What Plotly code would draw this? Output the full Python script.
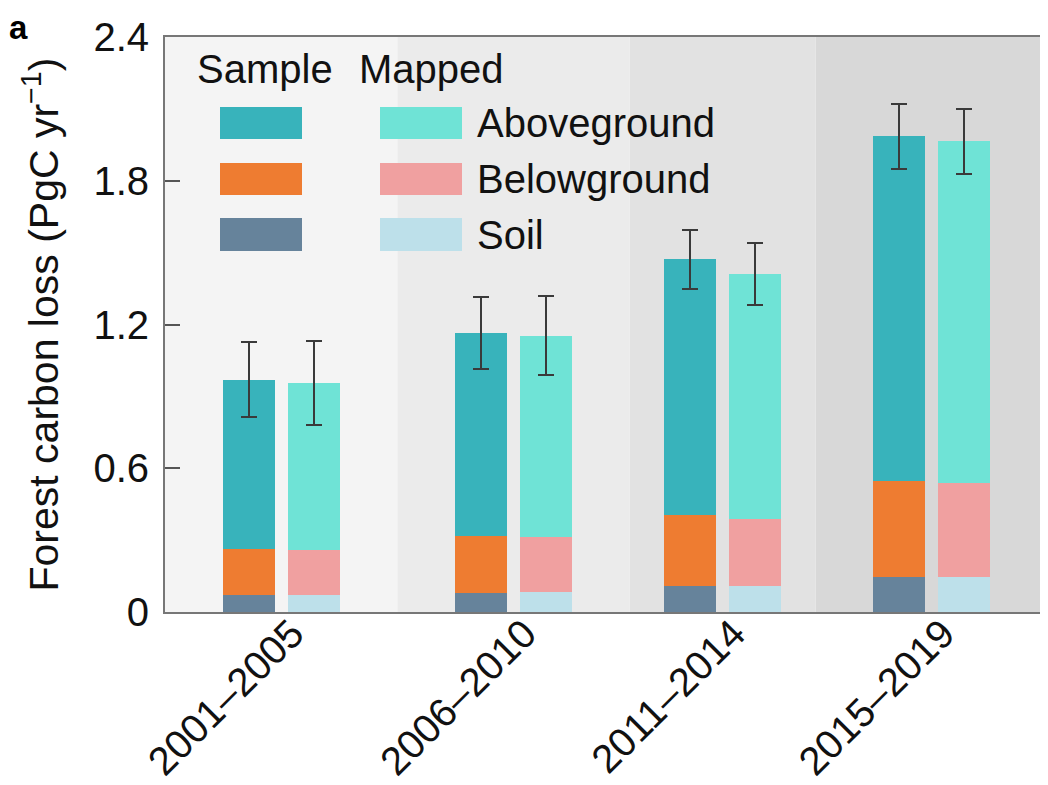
import plotly.graph_objects as go

# ---- data ----
periods = ["2001–2005", "2006–2010", "2011–2014", "2015–2019"]

sample_soil = [0.070, 0.081, 0.108, 0.148]
sample_below = [0.195, 0.237, 0.295, 0.399]
sample_above = [0.705, 0.847, 1.069, 1.439]
sample_err = [0.155, 0.149, 0.122, 0.136]

mapped_soil = [0.070, 0.084, 0.108, 0.148]
mapped_below = [0.188, 0.227, 0.281, 0.392]
mapped_above = [0.698, 0.843, 1.021, 1.424]
mapped_err = [0.175, 0.165, 0.130, 0.137]

y_ticks = [0, 0.6, 1.2, 1.8, 2.4]
y_tick_labels = ["0", "0.6", "1.2", "1.8", "2.4"]

# ---- derived positions (period spans on a continuous year axis) ----
starts = [int(p.split("–")[0]) for p in periods]
ends = [int(p.split("–")[1]) for p in periods]
edges = [s - 0.5 for s in starts] + [ends[-1] + 0.5]
centers = [(s + e) / 2 for s, e in zip(starts, ends)]
OFF = 0.70
BW = 1.12
xs = [c - OFF for c in centers]
xm = [c + OFF for c in centers]

C_S_ABOVE = "#38b3bb"
C_S_BELOW = "#ee7c31"
C_S_SOIL = "#66839b"
C_M_ABOVE = "#6fe3d6"
C_M_BELOW = "#f0a0a0"
C_M_SOIL = "#bde0ea"
band_colors = ["#f4f4f4", "#ebebeb", "#e2e2e2", "#d8d8d8"]

FONT = "Liberation Sans, Arial, Helvetica, sans-serif"
FS = 40

err_style = dict(type="data", visible=True, color="#3a3a3a", thickness=2, width=8)

fig = go.Figure()
fig.add_trace(go.Bar(x=xs, y=sample_soil, width=BW, marker_color=C_S_SOIL, name="Sample soil"))
fig.add_trace(go.Bar(x=xs, y=sample_below, width=BW, marker_color=C_S_BELOW, name="Sample belowground"))
fig.add_trace(go.Bar(x=xs, y=sample_above, width=BW, marker_color=C_S_ABOVE, name="Sample aboveground",
                     error_y=dict(array=sample_err, **err_style)))
fig.add_trace(go.Bar(x=xm, y=mapped_soil, width=BW, marker_color=C_M_SOIL, name="Mapped soil"))
fig.add_trace(go.Bar(x=xm, y=mapped_below, width=BW, marker_color=C_M_BELOW, name="Mapped belowground"))
fig.add_trace(go.Bar(x=xm, y=mapped_above, width=BW, marker_color=C_M_ABOVE, name="Mapped aboveground",
                     error_y=dict(array=mapped_err, **err_style)))
fig.update_traces(marker_line_width=0, showlegend=False)

# background bands
shapes = []
for i in range(len(periods)):
    shapes.append(dict(type="rect", xref="x", yref="paper", x0=edges[i], x1=edges[i + 1],
                       y0=0, y1=1, fillcolor=band_colors[i], line_width=0, layer="below"))

# screen-pixel layout (page body has an 8px margin)
PAGE_OFF = 8
W, H = 1048 - PAGE_OFF, 785 - PAGE_OFF
L, R, T, B = 165, 1048, 37, 612
def px(x):
    return (x - L) / (R - L)
def py(y):
    return (B - y) / (B - T)

rows = [(107, 139), (163, 195), (218, 251)]
sample_cols = [C_S_ABOVE, C_S_BELOW, C_S_SOIL]
mapped_cols = [C_M_ABOVE, C_M_BELOW, C_M_SOIL]
labels = ["Aboveground", "Belowground", "Soil"]
annotations = []
for (y0, y1), cs, cm, lab in zip(rows, sample_cols, mapped_cols, labels):
    shapes.append(dict(type="rect", xref="paper", yref="paper", x0=px(220), x1=px(302),
                       y0=py(y1), y1=py(y0), fillcolor=cs, line_width=0))
    shapes.append(dict(type="rect", xref="paper", yref="paper", x0=px(380), x1=px(462),
                       y0=py(y1), y1=py(y0), fillcolor=cm, line_width=0))
    annotations.append(dict(text=lab, xref="paper", yref="paper", x=px(475), y=py((y0 + y1) / 2),
                            xanchor="left", yanchor="middle", showarrow=False,
                            font=dict(family=FONT, size=FS, color="#111")))
annotations.append(dict(text="Sample", xref="paper", yref="paper", x=px(195), y=py(69),
                        xanchor="left", yanchor="middle", showarrow=False,
                        font=dict(family=FONT, size=FS, color="#111")))
annotations.append(dict(text="Mapped", xref="paper", yref="paper", x=px(357), y=py(69),
                        xanchor="left", yanchor="middle", showarrow=False,
                        font=dict(family=FONT, size=FS, color="#111")))
annotations.append(dict(text="<b>a</b>", xref="paper", yref="paper", x=px(PAGE_OFF), y=py(PAGE_OFF),
                        xanchor="left", yanchor="top", showarrow=False, borderpad=0,
                        font=dict(family=FONT, size=33, color="#000")))

fig.update_layout(
    width=W, height=H,
    margin=dict(l=L - PAGE_OFF, r=1048 - R, t=T - PAGE_OFF, b=785 - B, autoexpand=False),
    paper_bgcolor="white", plot_bgcolor="white",
    barmode="relative", bargap=0,
    shapes=shapes, annotations=annotations,
    font=dict(family=FONT, size=FS, color="#111"),
    xaxis=dict(range=[edges[0], edges[-1]], tickvals=centers, ticktext=periods,
               tickangle=-45, ticks="", showgrid=False, zeroline=False,
               showline=True, linecolor="#777", linewidth=2, mirror=True,
               ticklabelstandoff=-20, ticklabelshift=11,
               tickfont=dict(family=FONT, size=FS, color="#111")),
    yaxis=dict(range=[0, 2.4], tickvals=y_ticks, ticktext=y_tick_labels,
               ticks="inside", ticklen=15, tickwidth=2, tickcolor="#555",
               showgrid=False, zeroline=False, showline=True, linecolor="#777", linewidth=2,
               ticklabelstandoff=6,
               tickfont=dict(family=FONT, size=FS, color="#111")),
    yaxis_title=dict(text="Forest carbon loss (PgC yr<sup>−1</sup>)", standoff=22,
                     font=dict(family=FONT, size=41, color="#111")),
)

fig.write_html("out.html")
